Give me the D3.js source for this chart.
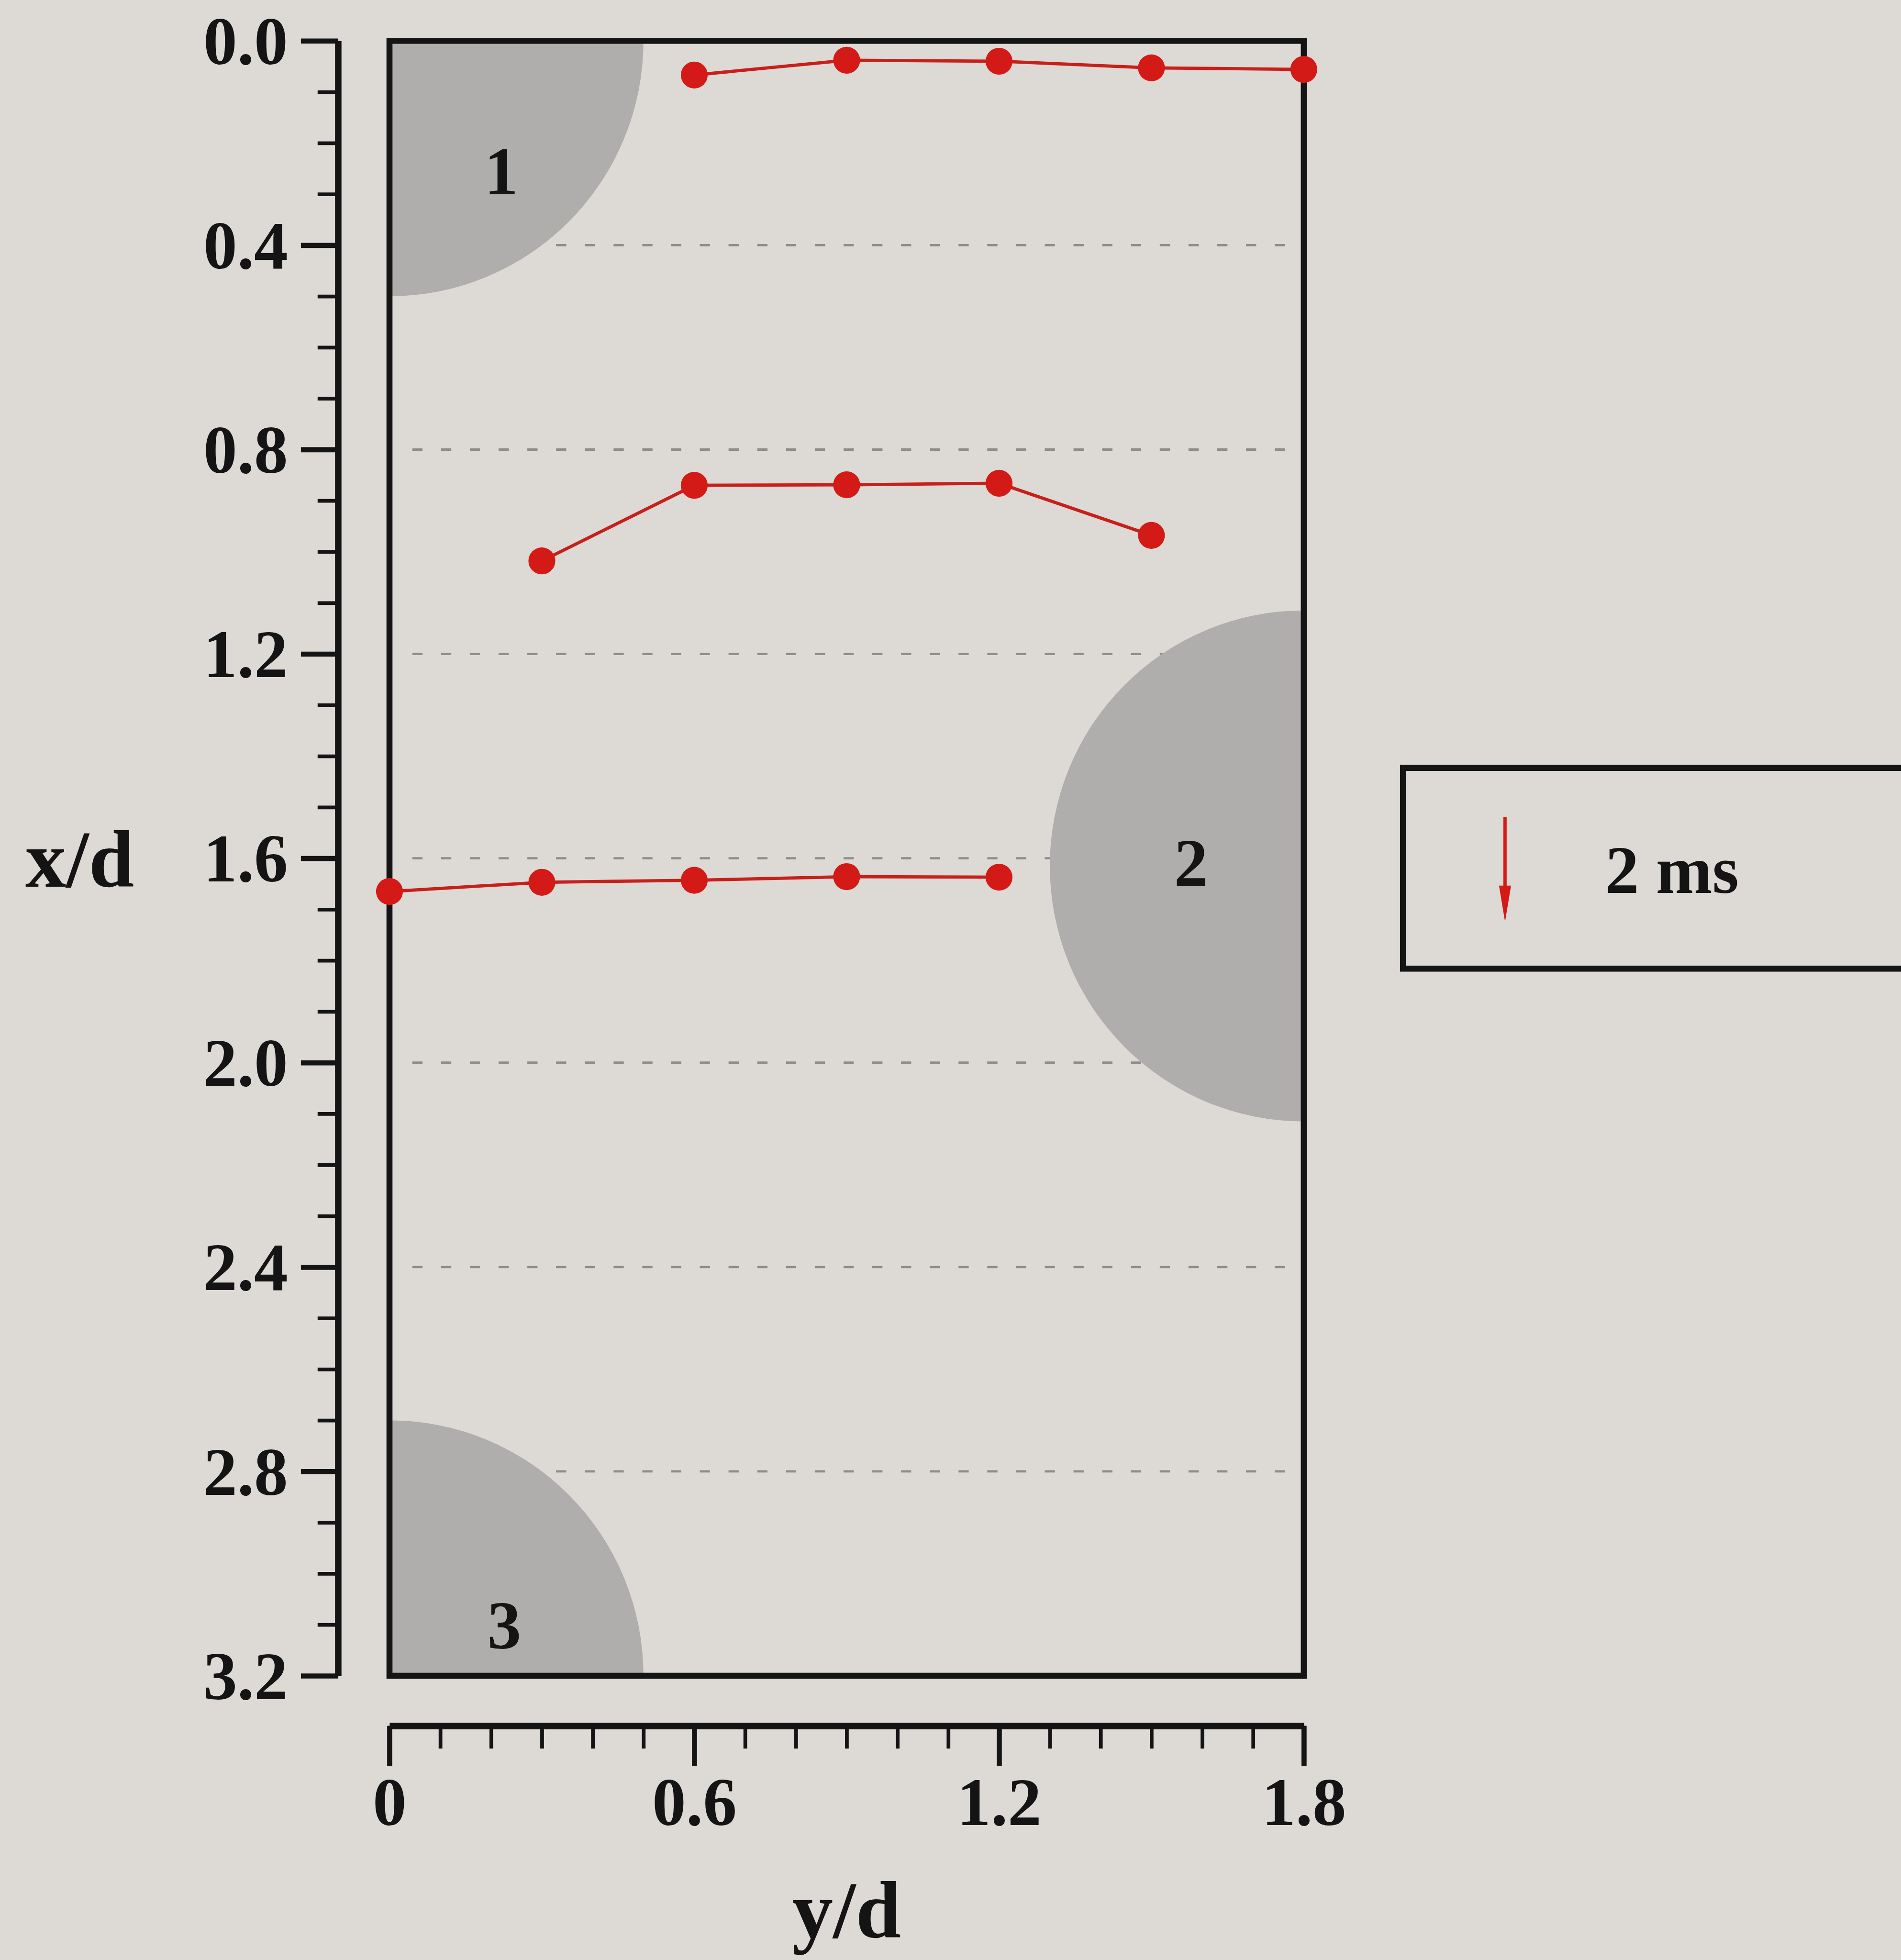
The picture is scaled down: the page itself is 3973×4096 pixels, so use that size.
<!DOCTYPE html>
<html>
<head>
<meta charset="utf-8">
<script src="https://cdn.jsdelivr.net/npm/d3@7"></script>
<style>
  html, body { margin: 0; padding: 0; background: #dddad6; overflow: hidden; }
  svg { display: block; }
  text { font-family: "Liberation Serif", "Times New Roman", serif; font-weight: bold; fill: #141414; }
</style>
</head>
<body>
<script>
// ---------- data ----------
const yTickValues = [0.0, 0.4, 0.8, 1.2, 1.6, 2.0, 2.4, 2.8, 3.2];
const yTickLabels = ["0.0", "0.4", "0.8", "1.2", "1.6", "2.0", "2.4", "2.8", "3.2"];
const xTickValues = [0, 0.6, 1.2, 1.8];
const xTickLabels = ["0", "0.6", "1.2", "1.8"];
const gridLevels = [0.4, 0.8, 1.2, 1.6, 2.0, 2.4, 2.8];

// profile 1 (near x/d = 0)
const p1YD = [0.6, 0.9, 1.2, 1.5, 1.8];
const p1XD = [0.067, 0.038, 0.040, 0.053, 0.056];
// profile 2 (near x/d = 0.8)
const p2YD = [0.3, 0.6, 0.9, 1.2, 1.5];
const p2XD = [1.018, 0.870, 0.869, 0.866, 0.968];
// profile 3 (near x/d = 1.6)
const p3YD = [0.0, 0.3, 0.6, 0.9, 1.2];
const p3XD = [1.665, 1.647, 1.643, 1.636, 1.637];

const cylinderYD = [0.0, 1.8, 0.0];
const cylinderXD = [0.0, 1.615, 3.2];
const cylinderRadius = 0.5;
const cylinderLabels = ["1", "2", "3"];
const cylinderLabelYD = [0.22, 1.578, 0.226];
const cylinderLabelXD = [0.30, 1.654, 3.147];

const legendText = "2 ms";
const xAxisTitle = "y/d";
const yAxisTitle = "x/d";

// ---------- layout (reference pixel space, scaled by viewBox) ----------
const W = 4100, H = 4227;
const svg = d3.select("body").append("svg")
  .attr("width", 3973).attr("height", 4096)
  .attr("viewBox", `0 0 ${W} ${H}`);

svg.append("rect").attr("width", W).attr("height", H).attr("fill", "#dddad6");

const x = d3.scaleLinear().domain([0, 1.8]).range([840, 2812]);
const y = d3.scaleLinear().domain([0, 3.2]).range([88, 3614]);

const FS = 146;
const red = "#d41a17";
const ink = "#141414";

// clip for cylinders
svg.append("clipPath").attr("id", "box")
  .append("rect")
  .attr("x", x(0)).attr("y", y(0))
  .attr("width", x(1.8) - x(0)).attr("height", y(3.2) - y(0));

// grid dashed lines
svg.append("g").selectAll("line").data(gridLevels).join("line")
  .attr("x1", x(0.045)).attr("x2", x(1.785))
  .attr("y1", d => y(d)).attr("y2", d => y(d))
  .attr("stroke", "#8f8d8b").attr("stroke-width", 5)
  .attr("stroke-dasharray", "22,40");

// cylinders
const cyl = d3.range(cylinderYD.length).map(i => ({
  cx: cylinderYD[i], cy: cylinderXD[i], lbl: cylinderLabels[i],
  ly: cylinderLabelYD[i], lx: cylinderLabelXD[i]
}));
svg.append("g").attr("clip-path", "url(#box)").selectAll("ellipse").data(cyl).join("ellipse")
  .attr("cx", d => x(d.cx)).attr("cy", d => y(d.cy))
  .attr("rx", x(cylinderRadius) - x(0)).attr("ry", y(cylinderRadius) - y(0))
  .attr("fill", "#afaead");

svg.append("g").selectAll("text").data(cyl).join("text")
  .attr("x", d => x(d.ly)).attr("y", d => y(d.lx))
  .attr("text-anchor", "middle").attr("font-size", FS)
  .text(d => d.lbl);

// frame box
svg.append("rect")
  .attr("x", x(0)).attr("y", y(0))
  .attr("width", x(1.8) - x(0)).attr("height", y(3.2) - y(0))
  .attr("fill", "none").attr("stroke", ink).attr("stroke-width", 13);

// profiles
const profiles = [
  p1YD.map((v, i) => [v, p1XD[i]]),
  p2YD.map((v, i) => [v, p2XD[i]]),
  p3YD.map((v, i) => [v, p3XD[i]])
];
const line = d3.line().x(d => x(d[0])).y(d => y(d[1]));
const pg = svg.append("g");
pg.selectAll("path").data(profiles).join("path")
  .attr("d", line).attr("fill", "none")
  .attr("stroke", "#c91f1a").attr("stroke-width", 7);
pg.selectAll("circle").data(profiles.flat()).join("circle")
  .attr("cx", d => x(d[0])).attr("cy", d => y(d[1]))
  .attr("r", 29).attr("fill", red);

// left axis (x/d)
const axisX = 729;
const gL = svg.append("g").attr("transform", `translate(${axisX},0)`);
gL.call(d3.axisLeft(y).tickValues(d3.range(0, 33).map(i => i / 10)).tickSize(44).tickFormat(""))
  .call(g => g.select(".domain").remove())
  .call(g => g.selectAll(".tick line").attr("stroke", ink).attr("stroke-width", 8));
gL.append("g")
  .call(d3.axisLeft(y).tickValues(yTickValues).tickSize(80).tickSizeOuter(0).tickPadding(28)
    .tickFormat((d, i) => yTickLabels[i]))
  .call(g => g.attr("font-family", null).attr("font-size", null))
  .call(g => g.select(".domain").attr("stroke", ink).attr("stroke-width", 14))
  .call(g => g.selectAll(".tick line").attr("stroke", ink).attr("stroke-width", 11))
  .call(g => g.selectAll(".tick text").attr("font-size", FS).attr("fill", ink).attr("dy", "0.34em"));

// bottom axis (y/d)
const axisY = 3722;
const gB = svg.append("g").attr("transform", `translate(0,${axisY})`);
gB.call(d3.axisBottom(x).tickValues(d3.range(0, 19).map(i => i / 10)).tickSize(49).tickFormat(""))
  .call(g => g.select(".domain").remove())
  .call(g => g.selectAll(".tick line").attr("stroke", ink).attr("stroke-width", 8));
gB.append("g")
  .call(d3.axisBottom(x).tickValues(xTickValues).tickSize(86).tickSizeOuter(0).tickPadding(24)
    .tickFormat((d, i) => xTickLabels[i]))
  .call(g => g.attr("font-family", null).attr("font-size", null))
  .call(g => g.select(".domain").attr("stroke", ink).attr("stroke-width", 14))
  .call(g => g.selectAll(".tick line").attr("stroke", ink).attr("stroke-width", 11))
  .call(g => g.selectAll(".tick text").attr("font-size", FS).attr("fill", ink));

// axis titles
svg.append("text").attr("x", 172).attr("y", 1912).attr("text-anchor", "middle")
  .attr("font-size", 176).text(yAxisTitle);
svg.append("text").attr("x", 1826).attr("y", 4178).attr("text-anchor", "middle")
  .attr("font-size", 176).text(xAxisTitle);

// legend
const lg = svg.append("g");
lg.append("rect").attr("x", 3026).attr("y", 1656).attr("width", 1200).attr("height", 433)
  .attr("fill", "none").attr("stroke", ink).attr("stroke-width", 13);
lg.append("line").attr("x1", 3246).attr("x2", 3246).attr("y1", 1762).attr("y2", 1940)
  .attr("stroke", red).attr("stroke-width", 7);
lg.append("path").attr("d", "M3233,1910 L3259,1910 L3246,1988 Z").attr("fill", red);
lg.append("text").attr("x", 3462).attr("y", 1926).attr("font-size", FS).text(legendText);
</script>
</body>
</html>
